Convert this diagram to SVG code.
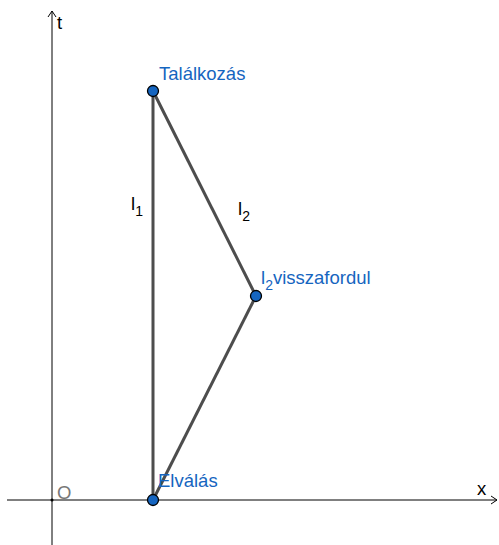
<svg xmlns="http://www.w3.org/2000/svg" width="499" height="545" viewBox="0 0 499 545">
<style>
.ax{stroke:#000;stroke-width:1;fill:none}
.seg{stroke:#4d4d4d;stroke-width:3;fill:none}
.pt{fill:#1565c0;stroke:#000;stroke-width:1.3}
.lbl{font-family:"Liberation Sans",Arial,sans-serif;font-size:18.5px;fill:#1565c0}
.blk{font-family:"Liberation Sans",Arial,sans-serif;font-size:18.5px;fill:#000}
</style>
<rect width="499" height="545" fill="#fff"/>
<g id="axes">
<path class="ax" d="M52,545 V11 M48,17 L52,11 L56,17"/>
<path class="ax" d="M7,500 H497 M491,496 L497,500 L491,504"/>
<circle cx="52" cy="500" r="1.5" fill="#000"/>
<text class="blk" x="57" y="29">t</text>
<text class="blk" x="477" y="495">x</text>
<text x="57" y="499" font-family="Liberation Sans,Arial,sans-serif" font-size="18.5" fill="#777">O</text>
</g>
<g id="connectors">
<line class="seg" x1="153" y1="91" x2="153" y2="500"/>
<line class="seg" x1="153" y1="91" x2="256" y2="296"/>
<line class="seg" x1="256" y1="296" x2="153" y2="500"/>
<text class="blk" x="131" y="210">l<tspan font-size="14" dy="6">1</tspan></text>
<text class="blk" x="238" y="215">l<tspan font-size="14" dy="6">2</tspan></text>
</g>
<g id="talalkozas">
<circle class="pt" cx="153" cy="91" r="5.5"/>
<text class="lbl" x="159" y="80">Találkozás</text>
</g>
<g id="visszafordul">
<circle class="pt" cx="256" cy="296" r="5.5"/>
<text class="lbl" x="261" y="284">l<tspan font-size="14" dy="6">2</tspan><tspan dy="-6">visszafordul</tspan></text>
</g>
<g id="elvalas">
<circle class="pt" cx="153" cy="500" r="5.5"/>
<text class="lbl" x="158" y="487">Elválás</text>
</g>
</svg>
